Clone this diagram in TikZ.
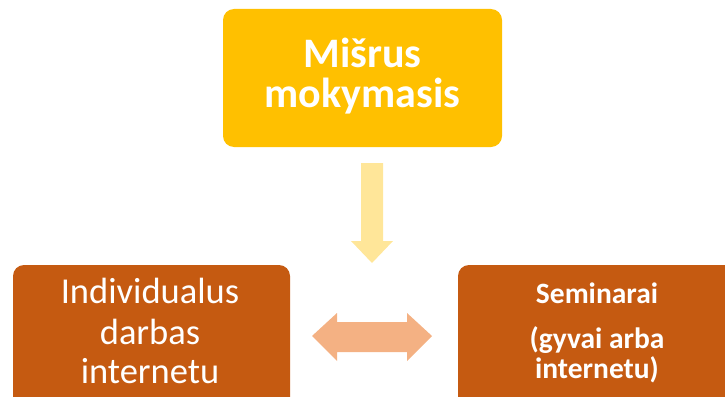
\documentclass[tikz,border=0pt]{standalone}
\usepackage{fontspec}
\setmainfont{Carlito}
\definecolor{topc}{HTML}{FFC000}
\definecolor{botc}{HTML}{C55A11}
\definecolor{downc}{HTML}{FFE699}
\definecolor{dblc}{HTML}{F4B183}
\begin{document}
\begin{tikzpicture}[x=1pt,y=-1pt,
  box/.style={draw=none, rounded corners=11pt, inner sep=0pt},
  bigbold/.style={anchor=base, inner sep=0pt, text=white, font=\fontsize{42}{42}\selectfont\bfseries},
  bigreg/.style={anchor=base, inner sep=0pt, text=white, font=\fontsize{36.5}{36.5}\selectfont},
  midbold/.style={anchor=base, inner sep=0pt, text=white, font=\fontsize{29.5}{29.5}\selectfont\bfseries}]
\useasboundingbox (0,0) rectangle (725,396);
\clip (0,0) rectangle (725,396);
% boxes
\node[box, fill=topc, minimum width=279pt, minimum height=138pt] (top) at (362.5,78) {};
\node[box, fill=botc, minimum width=277pt, minimum height=160pt] (left) at (151.5,345) {};
\node[box, fill=botc, minimum width=280pt, minimum height=160pt] (right) at (598,345) {};
% texts
\node[bigbold] (t1) at (362.5,67) {Mišrus};
\node[bigbold] (t2) at (362.5,107) {mokymasis};
\node[bigreg] (l1) at (150,303) {Individualus};
\node[bigreg] (l2) at (150,344) {darbas};
\node[bigreg] (l3) at (150,383) {internetu};
\node[midbold] (r1) at (597,303) {Seminarai};
\node[midbold] (r2) at (597,348) {(gyvai arba};
\node[midbold] (r3) at (597,378) {internetu)};
% down arrow
\fill[downc] (361,163) -- (383,163) -- (383,241) -- (393,241) -- (372,263) -- (351,241) -- (361,241) -- cycle;
% double arrow
\fill[dblc] (312,336) -- (337,313) -- (337,322) -- (407,322) -- (407,313) -- (432,336)
  -- (407,361) -- (407,352) -- (337,352) -- (337,361) -- cycle;
\end{tikzpicture}
\end{document}
